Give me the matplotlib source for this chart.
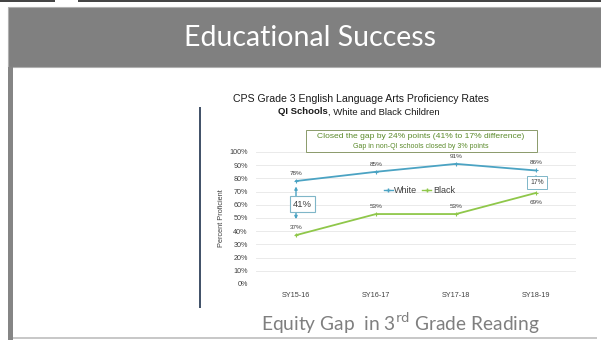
import matplotlib.pyplot as plt
from matplotlib.patches import Rectangle
from matplotlib.lines import Line2D

years = ["SY15-16", "SY16-17", "SY17-18", "SY18-19"]
white = [78, 85, 91, 86]
black = [37, 53, 53, 69]
gap_start = 41
gap_end = 17

W, H = 601, 340
fig = plt.figure(figsize=(W / 100, H / 100), dpi=100)
fig.patch.set_facecolor("white")


def box(x, y, w, h, **kw):
    # rectangle in pixel units, top-left origin
    fig.add_artist(Rectangle((x / W, 1 - (y + h) / H), w / W, h / H,
                             transform=fig.transFigure, **kw))


# slide frame
box(0, 0, 55, 2, color="#454545", lw=0)
box(78, 0, 523, 2, color="#454545", lw=0)
box(8, 7, 593, 60, facecolor="#808080", edgecolor="#b0b0b0", lw=0.8)
box(8, 67, 5, 273, color="#858585", lw=0)
box(13, 337, 584, 1.5, color="#c8c8c8", lw=0)
box(199, 107, 2, 201, color="#44546a", lw=0)

fig.text(310 / W, 1 - 38 / H, "Educational Success", color="white", fontsize=20.5,
         family="Lato", ha="center", va="center")
fig.text(400 / W, 1 - 323 / H, r"Equity Gap  in 3$^{\mathrm{rd}}$ Grade Reading", color="#7f7f7f",
         fontsize=13.8, family="Lato", ha="center", va="center")

# chart titles
fig.text(361 / W, 1 - 99 / H, "CPS Grade 3 English Language Arts Proficiency Rates",
         fontsize=7.6, family="Liberation Sans", ha="center", va="center", color="#1a1a1a")
fig.text(328 / W, 1 - 112 / H, "QI Schools", fontsize=6.8, family="Liberation Sans",
         weight="bold", ha="right", va="center", color="#1a1a1a")
fig.text(328 / W, 1 - 112 / H, ", White and Black Children", fontsize=6.8, family="Liberation Sans",
         ha="left", va="center", color="#1a1a1a")

# callout box
box(306, 130, 231, 22, facecolor="white", edgecolor="#8a9a6a", lw=0.7)
fig.text(421 / W, 1 - 136.5 / H, "Closed the gap by 24% points (41% to 17% difference)",
         fontsize=6.1, family="Liberation Sans", ha="center", va="center", color="#5a8a2a")
fig.text(421 / W, 1 - 146.5 / H, "Gap in non-QI schools closed by 3% points",
         fontsize=5.0, family="Liberation Sans", ha="center", va="center", color="#5a8a2a")

ax = fig.add_axes((256 / W, 56 / H, 320 / W, 132 / H))
x = range(len(years))
c_white = "#4ba3c3"
c_black = "#8fc74a"
ax.plot(x, white, color=c_white, lw=1.3, marker="+", ms=3, mew=0.8, label="White")
ax.plot(x, black, color=c_black, lw=1.3, marker="+", ms=3, mew=0.8, label="Black")

lab_kw = dict(fontsize=4.6, ha="center", color="#404040", family="Liberation Sans")
for i, v in enumerate(white):
    ax.text(i, v + 4, f"{v}%", va="bottom", **lab_kw)
for i, v in enumerate(black):
    if i == len(black) - 1:
        ax.text(i, v - 5, f"{v}%", va="top", **lab_kw)
    else:
        ax.text(i, v + 4, f"{v}%", va="bottom", **lab_kw)

# gap arrows
ax.annotate("", xy=(0, white[0] - 2), xytext=(0, black[0] + 10),
            arrowprops=dict(arrowstyle="<|-|>", color=c_white, lw=1, mutation_scale=4))
ax.annotate("", xy=(3, white[3] - 1), xytext=(3, black[3] + 1),
            arrowprops=dict(arrowstyle="<|-|>", color=c_white, lw=1, mutation_scale=4))
ax.text(0.08, 60.5, f"{gap_start}%", fontsize=6.8, ha="center", va="center", color="#404040",
        family="Liberation Sans",
        bbox=dict(boxstyle="square,pad=0.35", fc="white", ec="#7fb6c8", lw=0.8))
ax.text(3.01, 77, f"{gap_end}%", fontsize=4.9, ha="center", va="center", color="#404040",
        family="Liberation Sans",
        bbox=dict(boxstyle="square,pad=0.45", fc="white", ec="#7fb6c8", lw=0.7))

ax.set_xlim(-0.5, 3.5)
ax.set_ylim(0, 100)
ax.set_yticks(range(0, 101, 10))
ax.set_yticklabels([f"{t}%" for t in range(0, 101, 10)])
ax.set_xticks(list(x))
ax.set_xticklabels(years)
ax.tick_params(length=0, labelsize=5.2, colors="#404040", pad=6)
ax.tick_params(axis="x", pad=6)
for lab in ax.get_xticklabels() + ax.get_yticklabels():
    lab.set_family("Liberation Sans")
ax.grid(axis="y", color="#e6e6e6", lw=0.6)
ax.set_axisbelow(True)
for s in ax.spines.values():
    s.set_visible(False)
ax.set_ylabel("Percent Proficient", fontsize=5.3, color="#404040", family="Liberation Sans", labelpad=3)

ax.legend(handles=[Line2D([], [], color=c_white, lw=1, marker="+", ms=3),
                   Line2D([], [], color=c_black, lw=1, marker="+", ms=3)],
          labels=["White", "Black"], ncol=2, frameon=False, loc="center",
          bbox_to_anchor=(0.51, 0.705), handlelength=1.0, handletextpad=0.2,
          columnspacing=0.5, prop={"family": "Liberation Sans", "size": 6.5},
          labelcolor="#404040")

fig.savefig("out.png", dpi=100)
